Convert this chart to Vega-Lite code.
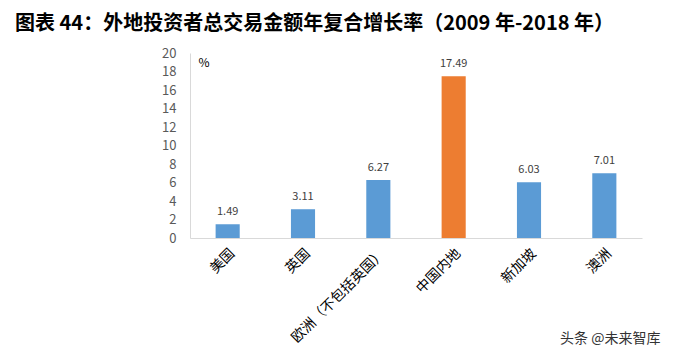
{
  "$schema": "https://vega.github.io/schema/vega-lite/v6.json",
  "autosize": "none",
  "width": 452,
  "height": 185,
  "padding": {"left": 190, "top": 53, "right": 40, "bottom": 120},
  "background": "white",
  "config": {"view": {"stroke": null}, "font": "Noto Sans CJK SC"},
  "title": {
    "text": "图表 44：外地投资者总交易金额年复合增长率（2009 年-2018 年）",
    "anchor": "start",
    "frame": "group",
    "dx": -175,
    "offset": 13,
    "fontSize": 20,
    "fontWeight": "bold",
    "font": "Noto Sans CJK SC",
    "color": "#000000"
  },
  "data": {
    "values": [
      {"region": "美国", "value": 1.49},
      {"region": "英国", "value": 3.11},
      {"region": "欧洲（不包括英国）", "value": 6.27},
      {"region": "中国内地", "value": 17.49},
      {"region": "新加坡", "value": 6.03},
      {"region": "澳洲", "value": 7.01}
    ]
  },
  "encoding": {
    "x": {
      "field": "region",
      "type": "nominal",
      "sort": null,
      "scale": {"paddingInner": 0.68, "paddingOuter": 0.34},
      "axis": {
        "title": "头条 @未来智库",
        "titleAnchor": "end",
        "titleAlign": "right",
        "titleX": 470,
        "titleY": 93,
        "titleFontSize": 14,
        "titleFontWeight": "normal",
        "titleColor": "#333333",
        "labelAngle": -45,
        "labelFontSize": 14,
        "labelColor": "#000000",
        "labelPadding": 8,
        "ticks": false,
        "domainColor": "#d9d9d9"
      }
    },
    "y": {
      "field": "value",
      "type": "quantitative",
      "scale": {"domain": [0, 20], "nice": false},
      "axis": {
        "title": "%",
        "titleAngle": 0,
        "titleX": 8,
        "titleY": 9,
        "titleAlign": "left",
        "titleBaseline": "middle",
        "titleFontSize": 12,
        "titleFontWeight": "normal",
        "titleColor": "#000000",
        "values": [0, 2, 4, 6, 8, 10, 12, 14, 16, 18, 20],
        "labelFontSize": 13,
        "labelColor": "#595959",
        "labelPadding": 14,
        "ticks": false,
        "grid": false,
        "domainColor": "#d9d9d9"
      }
    }
  },
  "layer": [
    {
      "mark": {"type": "bar"},
      "encoding": {
        "color": {
          "condition": {"test": "datum.region === '中国内地'", "value": "#ED7D31"},
          "value": "#5B9BD5"
        }
      }
    },
    {
      "mark": {"type": "text", "dy": -12, "fontSize": 11, "color": "#404040"},
      "encoding": {"text": {"field": "value", "type": "quantitative", "format": ".2f"}}
    }
  ]
}
